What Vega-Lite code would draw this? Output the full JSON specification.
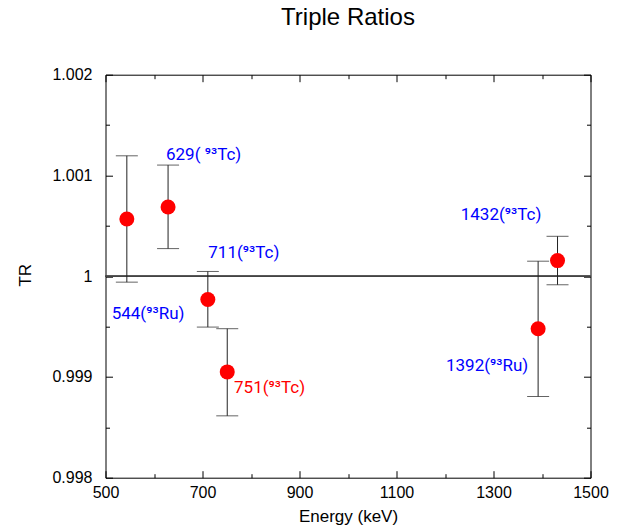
{
  "$schema": "https://vega.github.io/schema/vega-lite/v6.json",
  "width": 485,
  "height": 403,
  "autosize": "none",
  "padding": {"left": 105.5, "top": 74.7, "right": 34.5, "bottom": 52.3},
  "title": {"text": "Triple Ratios", "fontSize": 24, "fontWeight": "normal", "font": "Liberation Sans", "color": "#000000", "anchor": "middle", "frame": "group", "baseline": "alphabetic", "offset": 18},
  "config": {
    "view": {"stroke": "#000000", "strokeWidth": 1},
    "font": "Liberation Sans",
    "axis": {"labelFont": "Liberation Sans", "labelFontSize": 16, "labelColor": "#000000", "labelFlush": false, "titleFont": "Liberation Sans", "titleFontSize": 17, "titleFontWeight": "normal", "titleColor": "#000000", "tickColor": "#000000", "tickWidth": 1, "grid": false, "domain": false}
  },
  "data": {
    "values": [
      {"E": 544, "TR": 1.000568, "lo": 0.999941, "hi": 1.001195, "label": "544(⁹³Ru)", "lx": 512.8, "ly": 0.999621},
      {"E": 629, "TR": 1.000687, "lo": 1.000274, "hi": 1.001103, "label": "629( ⁹³Tc)", "lx": 624.7, "ly": 1.001205},
      {"E": 711, "TR": 0.999769, "lo": 0.999495, "hi": 1.000047, "label": "711(⁹³Tc)", "lx": 712, "ly": 1.000235},
      {"E": 751, "TR": 0.99905, "lo": 0.998614, "hi": 0.999479, "label": "751(⁹³Tc)", "lx": 765, "ly": 0.998888},
      {"E": 1392, "TR": 0.999479, "lo": 0.998806, "hi": 1.000149, "label": "1392(⁹³Ru)", "lx": 1202, "ly": 0.999109},
      {"E": 1432, "TR": 1.000155, "lo": 0.999915, "hi": 1.000396, "label": "1432(⁹³Tc)", "lx": 1232.4, "ly": 1.000611}
    ]
  },
  "layer": [
    {
      "mark": {"type": "rule", "color": "#444444", "strokeWidth": 1},
      "encoding": {"y": {"datum": 1, "type": "quantitative", "scale": {"domain": [0.998, 1.002], "nice": false, "zero": false}, "axis": null}}
    },
    {
      "mark": {"type": "rule", "color": "#222222", "strokeWidth": 1},
      "encoding": {
        "x": {"field": "E", "type": "quantitative", "axis": {"orient": "bottom", "values": [600, 800, 1000, 1200, 1400], "tickSize": -4, "labels": false, "title": null}},
        "y": {"field": "lo", "type": "quantitative", "axis": {"orient": "left", "values": [0.9985, 0.9995, 1.0005, 1.0015], "tickSize": -4, "labels": false, "title": null}},
        "y2": {"field": "hi"}
      }
    },
    {
      "mark": {"type": "tick", "orient": "horizontal", "size": 22, "thickness": 1, "color": "#222222"},
      "encoding": {
        "x": {"field": "E", "type": "quantitative", "axis": {"orient": "top", "values": [500, 700, 900, 1100, 1300, 1500], "tickSize": -7, "labels": false, "title": null}},
        "y": {"field": "lo", "type": "quantitative", "axis": {"orient": "right", "values": [0.998, 0.999, 1, 1.001, 1.002], "tickSize": -7, "labels": false, "title": null}}
      }
    },
    {
      "mark": {"type": "tick", "orient": "horizontal", "size": 22, "thickness": 1, "color": "#222222"},
      "encoding": {
        "x": {"field": "E", "type": "quantitative", "axis": {"orient": "top", "values": [600, 800, 1000, 1200, 1400], "tickSize": -4, "labels": false, "title": null}},
        "y": {"field": "hi", "type": "quantitative", "axis": {"orient": "right", "values": [0.9985, 0.9995, 1.0005, 1.0015], "tickSize": -4, "labels": false, "title": null}}
      }
    },
    {
      "mark": {"type": "circle", "size": 225, "color": "#ff0000", "opacity": 1},
      "encoding": {
        "x": {"field": "E", "type": "quantitative", "scale": {"domain": [500, 1500], "nice": false, "zero": false}, "axis": {"orient": "bottom", "values": [500, 700, 900, 1100, 1300, 1500], "tickSize": -7, "labelPadding": 14, "format": "d", "title": "Energy (keV)", "titleY": 43.3, "titleBaseline": "alphabetic"}},
        "y": {"field": "TR", "type": "quantitative", "scale": {"domain": [0.998, 1.002], "nice": false, "zero": false}, "axis": {"orient": "left", "values": [0.998, 0.999, 1, 1.001, 1.002], "tickSize": -7, "labelPadding": 20.5, "format": "~g", "title": "TR", "titleX": -80, "titleY": 200, "titleAngle": -90, "titleBaseline": "middle"}}
      }
    },
    {
      "mark": {"type": "text", "align": "left", "baseline": "middle", "fontSize": 17, "font": "Roboto"},
      "encoding": {
        "x": {"field": "lx", "type": "quantitative", "axis": null},
        "y": {"field": "ly", "type": "quantitative", "axis": null},
        "text": {"field": "label"},
        "color": {"condition": {"test": "datum.E === 751", "value": "#ff0000"}, "value": "#0000ff"}
      }
    }
  ]
}
